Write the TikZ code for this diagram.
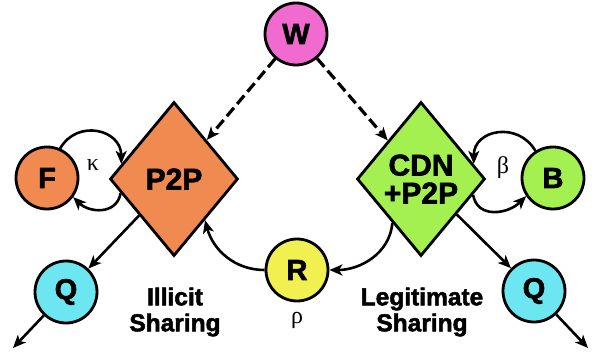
\documentclass[tikz,border=0pt]{standalone}
\usepackage{fontspec}
\setmainfont{Liberation Sans}
\newfontfamily\heavy[FakeBold=2]{Liberation Sans Bold}
\newfontfamily\greekserif{Liberation Serif}
\usetikzlibrary{shapes.geometric,arrows.meta}
\definecolor{corange}{RGB}{240,138,80}
\definecolor{cgreen}{RGB}{164,240,80}
\definecolor{cyellow}{RGB}{240,240,80}
\definecolor{ccyan}{RGB}{108,230,240}
\definecolor{cmagenta}{RGB}{240,106,207}
\begin{document}
\begin{tikzpicture}[x=1pt,y=-1pt,
  circ/.style={circle,draw=black,line width=2.8pt,minimum size=62pt,inner sep=0pt,
    font=\fontsize{29}{30}\selectfont\heavy},
  dia/.style={diamond,draw=black,line width=2.8pt,minimum width=128pt,minimum height=154pt,
    inner sep=0pt,aspect=0.83,align=center,font=\fontsize{30}{28}\selectfont\heavy},
  lbl/.style={align=center,font=\fontsize{24.5}{26}\selectfont\heavy},
  glbl/.style={font=\fontsize{24}{26}\selectfont\greekserif},
  arr/.style={line width=2.6pt,-{Stealth[length=13pt,width=11pt,inset=3.5pt]}},
  darr/.style={arr,line width=3.2pt,dash pattern=on 11pt off 5pt}]
\useasboundingbox (0,0) rectangle (595,356);
\node[circ,fill=cmagenta] (W) at (296,34) {W};
\node[dia,fill=corange] (P) at (174,179) {P2P};
\node[dia,fill=cgreen] (C) at (421,179) {CDN\\+P2P};
\node[circ,fill=corange] (F) at (47,178) {F};
\node[circ,fill=cgreen] (B) at (553,178) {B};
\node[circ,fill=cyellow] (R) at (297,270) {R};
\node[circ,fill=ccyan] (Q1) at (66,292) {Q};
\node[circ,fill=ccyan] (Q2) at (534,291) {Q};
\coordinate (o1) at (13,348);
\coordinate (o2) at (588,348);
\node[glbl] (k) at (93,165) {κ};
\node[glbl] (b) at (503,168) {β};
\node[glbl] (r) at (297,320) {ρ};
\node[lbl] (ill) at (175,312) {Illicit\\Sharing};
\node[lbl] (leg) at (422,312) {Legitimate\\Sharing};
% dashed
\draw[darr] (W) -- (P);
\draw[darr] (W) -- (C);
% loops
\draw[arr] (F.66) to[out=60,in=90,looseness=1.4] (P.164);
\draw[arr] (P.195) to[out=-100,in=-45,looseness=1.2] (F.-36);
\draw[arr] (B.123) to[out=120,in=90,looseness=1.4] (C.16);
\draw[arr] (C.-17) to[out=-80,in=-135,looseness=1.2] (B.-146);
% R curves
\draw[arr] (R.west) to[out=180,in=-75] (P.-53);
\draw[arr] (C.-123) to[out=-95,in=0] (R.east);
% Q
\draw[arr] (P) -- (Q1);
\draw[arr] (C) -- (Q2);
\draw[arr] (Q1) -- (o1);
\draw[arr] (Q2) -- (o2);
\end{tikzpicture}
\end{document}
